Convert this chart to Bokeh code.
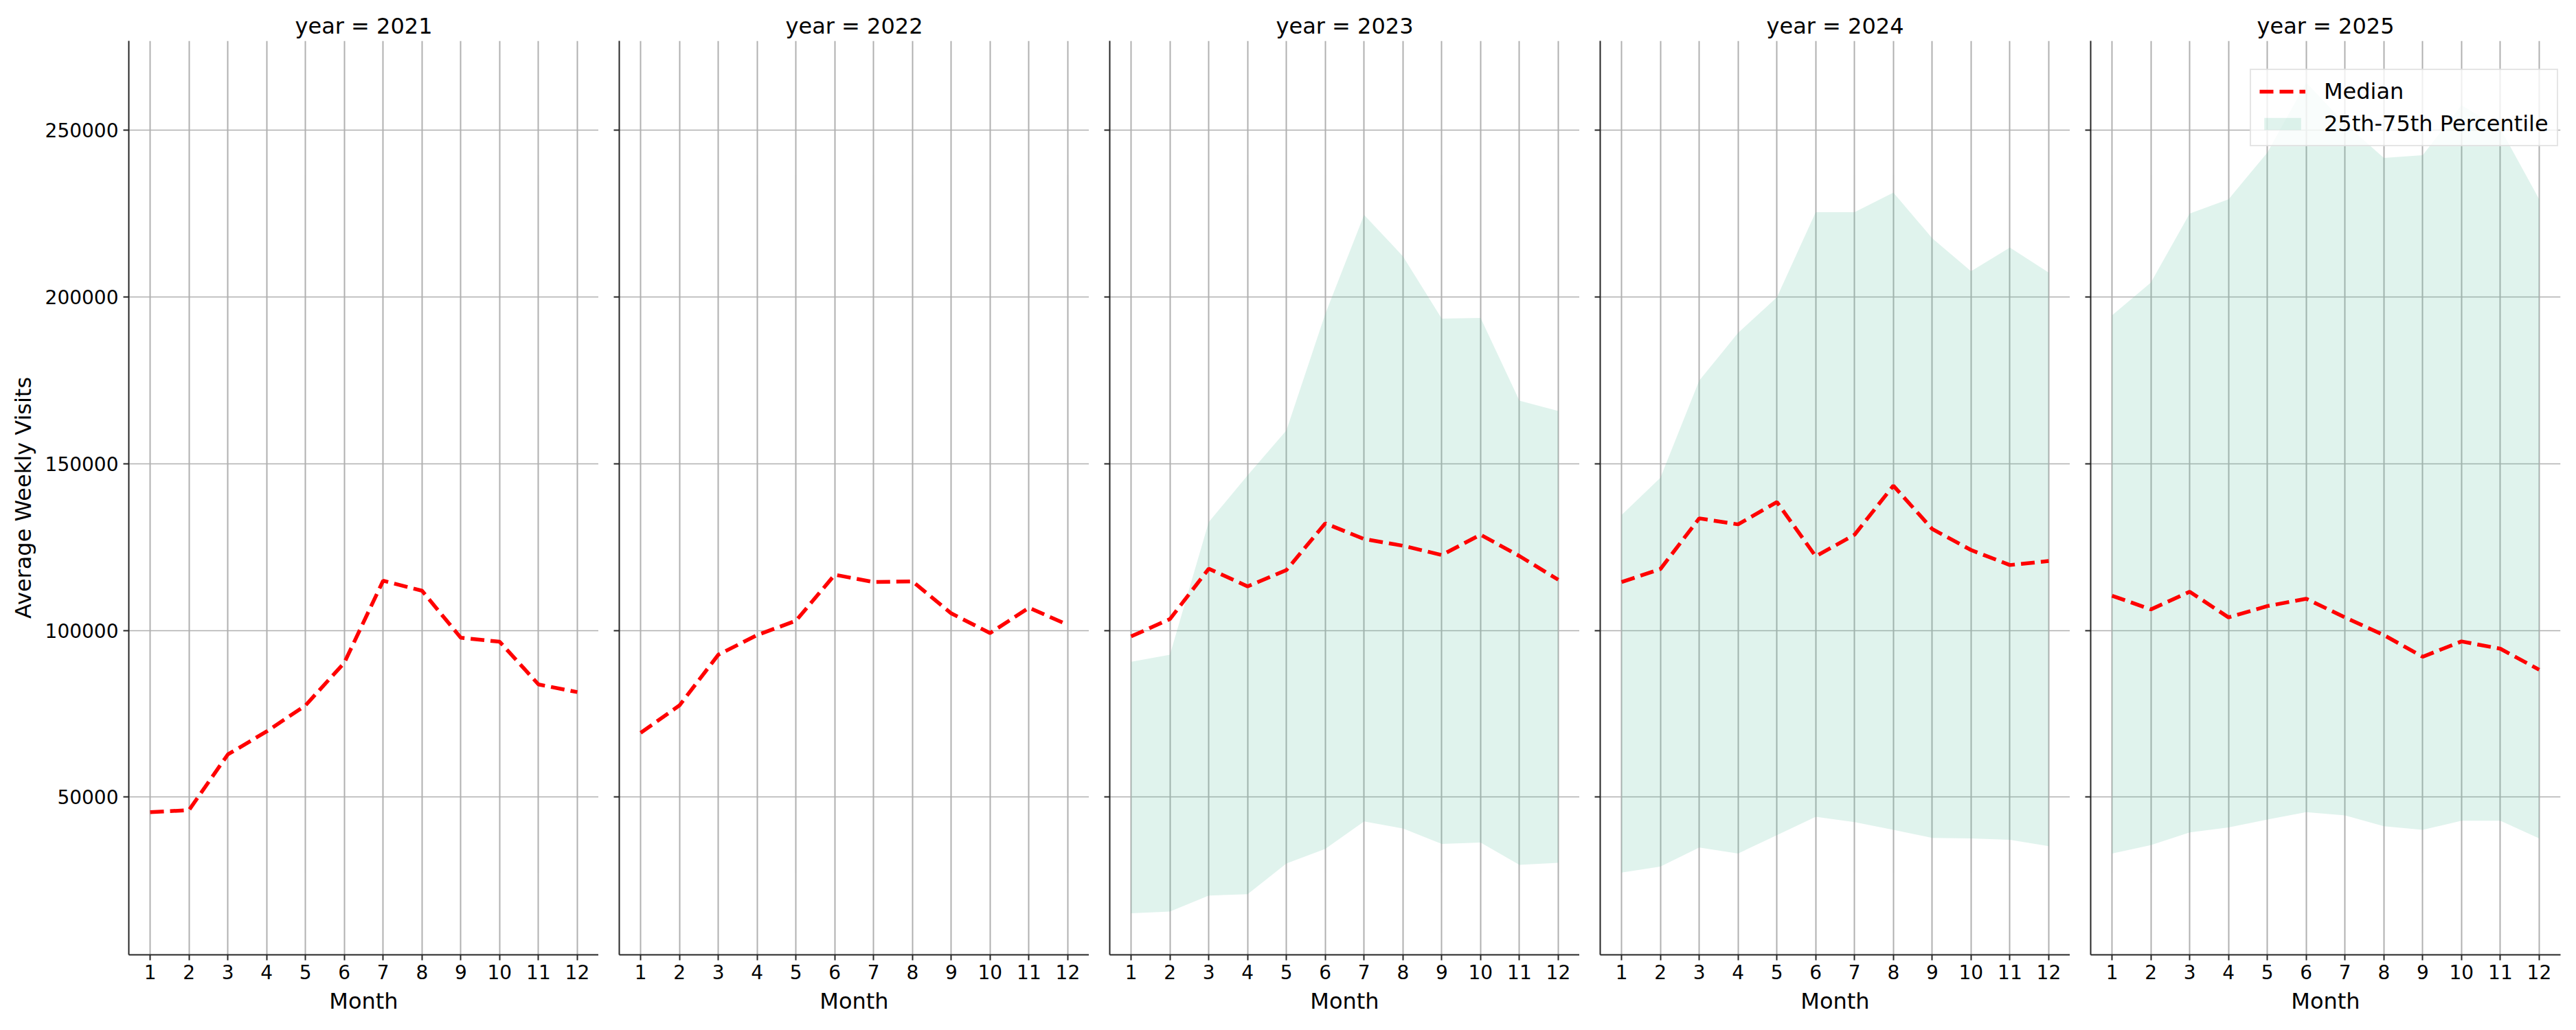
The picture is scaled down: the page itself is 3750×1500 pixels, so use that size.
from bokeh.embed import file_html
from bokeh.layouts import row
from bokeh.models import (BasicTickFormatter, FixedTicker, Legend, LegendItem,
                          Range1d)
from bokeh.plotting import figure
from bokeh.resources import INLINE

years = [2021, 2022, 2023, 2024, 2025]
months = [1, 2, 3, 4, 5, 6, 7, 8, 9, 10, 11, 12]
y_ticks = [50000, 100000, 150000, 200000, 250000]

# median of average weekly visits per month
med_2021 = [45500, 46100, 62800, 69700, 77500, 90300, 114900, 111900, 97800, 96600, 83800, 81500]
med_2022 = [69300, 77500, 92700, 98600, 102900, 116700, 114500, 114700, 105100, 99200, 106800, 101700]
med_2023 = [98200, 103400, 118500, 113200, 118100, 132100, 127400, 125400, 122600, 128700, 122300, 115200]
med_2024 = [114500, 118400, 133600, 131800, 138500, 122200, 128700, 143400, 130400, 124100, 119600, 120800]
med_2025 = [110400, 106300, 111600, 103900, 107300, 109500, 103900, 98600, 92100, 96700, 94500, 88200]

# 25th / 75th percentiles (none for 2021 and 2022)
q25_2023 = [15200, 15700, 20500, 20900, 30100, 34500, 42700, 40600, 36000, 36400, 29700, 30300]
q75_2023 = [90600, 92700, 132500, 146500, 160000, 194900, 224600, 212200, 193500, 193700, 168900, 165800]
q25_2024 = [27400, 29200, 34900, 33100, 38600, 44100, 42500, 40200, 37800, 37600, 37200, 35300]
q75_2024 = [134600, 145800, 174900, 189200, 199900, 225400, 225400, 231300, 217600, 207700, 214800, 207300]
q25_2025 = [33100, 35600, 39400, 40900, 43300, 45500, 44500, 41300, 40200, 42900, 42900, 37600]
q75_2025 = [194500, 204300, 225000, 229300, 243300, 264300, 252000, 241700, 242500, 257500, 250500, 229300]

medians = {2021: med_2021, 2022: med_2022, 2023: med_2023, 2024: med_2024, 2025: med_2025}
bands = {2023: (q25_2023, q75_2023), 2024: (q25_2024, q75_2024), 2025: (q25_2025, q75_2025)}

FONT = "DejaVu Sans"
SPINE = "#262626"
GRID = "#b0b0b0"

figs = []
for i, yr in enumerate(years):
    p = figure(title="year = %d" % yr, frame_width=684, frame_height=1331,
               x_range=Range1d(0.45, 12.55), y_range=Range1d(2720, 276790),
               output_backend="svg", toolbar_location=None,
               min_border_left=187 if i == 0 else 30,
               min_border_right=10 if i == len(years) - 1 else 0,
               min_border_top=59, min_border_bottom=95)
    p.outline_line_color = None
    p.background_fill_color = "white"

    p.title.text_font = FONT
    p.title.text_font_size = "32px"
    p.title.text_font_style = "normal"
    p.title.text_color = "black"
    p.title.align = "center"
    p.title.standoff = 6

    p.xaxis.ticker = FixedTicker(ticks=months, minor_ticks=[])
    p.yaxis.ticker = FixedTicker(ticks=y_ticks, minor_ticks=[])
    p.yaxis.formatter = BasicTickFormatter(use_scientific=False)
    p.xgrid.ticker = FixedTicker(ticks=months)
    p.ygrid.ticker = FixedTicker(ticks=y_ticks)
    p.xgrid.grid_line_color = GRID
    p.xgrid.grid_line_width = 2
    p.ygrid.grid_line_color = GRID
    p.ygrid.grid_line_width = 1.6

    for ax in (p.xaxis, p.yaxis):
        ax.axis_line_color = SPINE
        ax.axis_line_width = 2
        ax.major_tick_line_color = SPINE
        ax.major_tick_line_width = 2
        ax.major_tick_in = 0
        ax.major_tick_out = 8
        ax.minor_tick_in = 0
        ax.minor_tick_out = 0
        ax.major_label_text_font = FONT
        ax.major_label_text_font_size = "28px"
        ax.major_label_text_color = "black"
        ax.axis_label_text_font = FONT
        ax.axis_label_text_font_size = "32px"
        ax.axis_label_text_font_style = "normal"
        ax.axis_label_text_color = "black"

    p.xaxis.axis_label = "Month"
    p.xaxis.major_label_standoff = 6
    p.xaxis.axis_label_standoff = 10

    if i == 0:
        p.yaxis.axis_label = "Average Weekly Visits"
        p.yaxis.major_label_standoff = 7
        p.yaxis.axis_label_standoff = 10
    else:
        # shared y axis: tick marks only
        p.yaxis.major_label_overrides = {t: "" for t in y_ticks}
        p.yaxis.major_label_standoff = 0

    band_r = None
    if yr in bands:
        lo, hi = bands[yr]
        band_r = p.varea(x=months, y1=lo, y2=hi, fill_color="#66c2a5", fill_alpha=0.2)

    med_r = p.line(months, medians[yr], line_color="red", line_width=5.5, line_dash="20 9")

    if yr == 2025:
        legend = Legend(items=[LegendItem(label="Median", renderers=[med_r]),
                               LegendItem(label="25th-75th Percentile", renderers=[band_r])],
                        location=(232, 1177), margin=0, padding=12, spacing=9,
                        glyph_width=67, glyph_height=22, label_height=38,
                        label_standoff=27)
        legend.label_text_font = FONT
        legend.label_text_font_size = "32px"
        legend.label_text_color = "black"
        legend.border_line_color = "#cccccc"
        legend.border_line_width = 2
        legend.background_fill_color = "white"
        legend.background_fill_alpha = 0.8
        p.add_layout(legend)

    figs.append(p)

layout = row(*figs)
open("out.html", "w").write(file_html(layout, INLINE))
